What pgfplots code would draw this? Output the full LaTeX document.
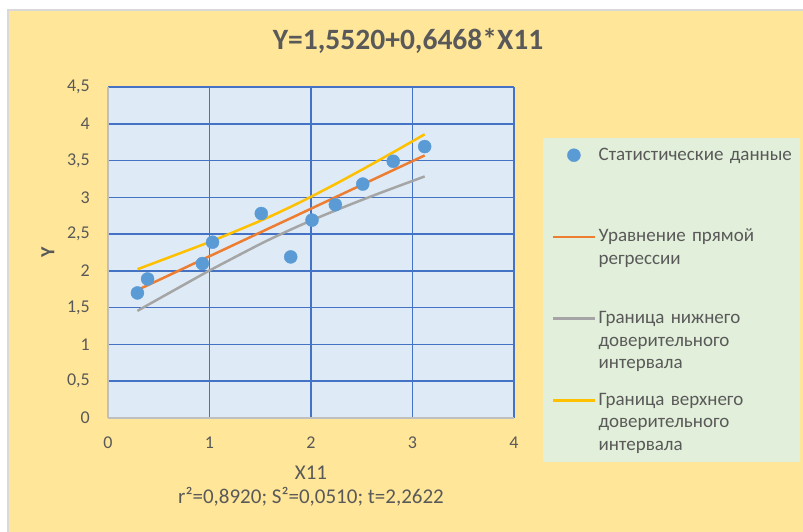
\documentclass[border=0pt]{standalone}
\usepackage{pgfplots}
\usepackage{pgfplotstable}
\pgfplotsset{compat=1.18}
\usepackage{fontspec}
\setmainfont{Carlito}

\definecolor{ChartBg}{HTML}{FFE699}
\definecolor{PlotBg}{HTML}{DEEBF7}
\definecolor{GridBlue}{HTML}{4472C4}
\definecolor{LegendBg}{HTML}{E2EFDA}
\definecolor{TextGray}{HTML}{595959}
\definecolor{AxisGray}{HTML}{BFBFBF}
\definecolor{FrameGray}{HTML}{D9D9D9}
\definecolor{PointBlue}{HTML}{5B9BD5}
\definecolor{RegOrange}{HTML}{ED7D31}
\definecolor{LowGray}{HTML}{A5A5A5}
\definecolor{UpYellow}{HTML}{FFC000}

% observed points
\pgfplotstableread{
x    y
0.29 1.70
0.39 1.89
0.93 2.10
1.03 2.39
1.51 2.78
1.80 2.19
2.01 2.69
2.24 2.90
2.51 3.18
2.81 3.49
3.12 3.69
}\statdata

% regression line and confidence bounds
\pgfplotstableread{
x    reg   lo    up
0.29 1.740 1.456 2.023
0.39 1.804 1.535 2.074
0.93 2.154 1.952 2.355
1.03 2.218 2.027 2.409
1.51 2.529 2.372 2.686
1.80 2.716 2.561 2.871
2.01 2.852 2.689 3.015
2.24 3.001 2.821 3.180
2.51 3.176 2.969 3.382
2.81 3.370 3.126 3.613
3.12 3.570 3.284 3.857
}\fitdata

\begin{document}
\begin{tikzpicture}
  \useasboundingbox (0,0) rectangle (803bp,532bp);
  \fill[white] (0,0) rectangle (803bp,532bp);
  \fill[ChartBg] (8bp,0) rectangle (803bp,522bp);
  \draw[FrameGray, line width=2bp] (8bp,0) -- (8bp,522bp) -- (803bp,522bp);
  \begin{axis}[
    at={(108bp,114bp)}, anchor=south west,
    scale only axis, width=406bp, height=331bp,
    xmin=0, xmax=4, ymin=0, ymax=4.5,
    xtick={0,1,2,3,4}, ytick={0,0.5,...,4.5},
    scaled ticks=false,
    /pgf/number format/.cd, use comma, 1000 sep={}, assume math mode=true,
    /pgfplots/.cd,
    axis background/.style={fill=PlotBg},
    grid=major, major grid style={GridBlue, line width=1.5bp},
    axis x line*=bottom, axis y line*=left,
    axis line style={AxisGray, line width=1.5bp, -},
    major tick length=0pt, tick style={draw=none},
    tick label style={font=\fontsize{18bp}{21bp}\selectfont, color=TextGray, inner sep=0pt},
    yticklabel style={anchor=east, xshift=-18bp},
    xticklabel style={anchor=north, yshift=-19bp},
    title={Y=1,5520+0,6468*X11},
    title style={at={(0.739,1.0967)}, anchor=base, inner sep=0pt,
      font=\bfseries\fontsize{29.5bp}{35bp}\selectfont, color=TextGray},
    ylabel={Y},
    ylabel style={at={(axis description cs:-0.1478,0.5)}, anchor=center, inner sep=0pt,
      font=\bfseries\fontsize{20bp}{24bp}\selectfont, color=TextGray},
    xlabel={X11\\r²=0,8920; S²=0,0510; t=2,2622},
    xlabel style={at={(axis description cs:0.5,-0.145)}, anchor=north, align=center, inner sep=0pt,
      font=\fontsize{21bp}{24bp}\selectfont, color=TextGray},
    legend cell align=left,
    legend image code/.code={\draw[mark repeat=2,mark phase=2,#1]
      plot coordinates {(0bp,5bp) (20.5bp,5bp) (41bp,5bp)};},
    legend style={at={(1.0714,0.8459)}, anchor=north west, fill=LegendBg, draw=none,
      inner xsep=9bp, inner ysep=7bp, row sep=16.7bp, column sep=3bp,
      font=\fontsize{19bp}{22.5bp}\selectfont, text=TextGray,
      nodes={inner sep=0pt, text width=192bp, align=left, anchor=base west,
        text height=15bp, text depth=50bp}},
  ]
    \addplot[only marks, mark=*, mark size=6.5bp, color=PointBlue,
      mark options={draw=PointBlue, fill=PointBlue}] table[x=x, y=y] {\statdata};
    \addlegendentry{\mbox{Статистические данные}}
    \addplot[RegOrange, line width=2.5bp, smooth] table[x=x, y=reg] {\fitdata};
    \addlegendentry{Уравнение прямой\\регрессии}
    \addplot[LowGray, line width=2.5bp, smooth] table[x=x, y=lo] {\fitdata};
    \addlegendentry{Граница нижнего\\доверительного\\интервала}
    \addplot[UpYellow, line width=2.5bp, smooth] table[x=x, y=up] {\fitdata};
    \addlegendentry{Граница верхнего\\доверительного\\интервала}
  \end{axis}
\end{tikzpicture}
\end{document}
